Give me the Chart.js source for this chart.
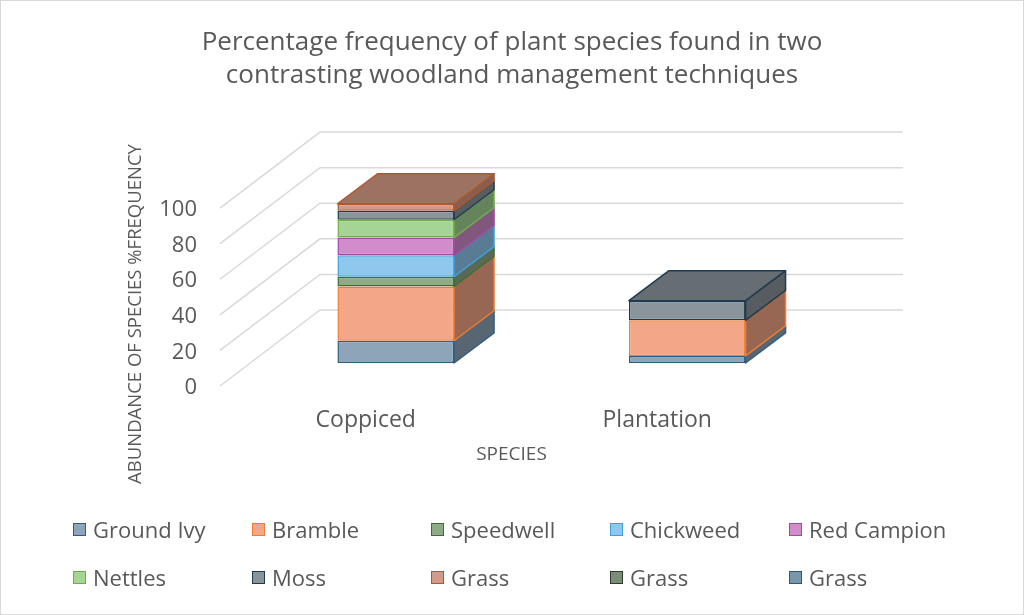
<!DOCTYPE html>
<html>
<head>
<meta charset="utf-8">
<script src="https://cdn.jsdelivr.net/npm/chart.js@4.4.0/dist/chart.umd.min.js"></script>
<style>
    html, body { margin: 0; padding: 0; background: #fff; }
    #wrap { position: relative; width: 1024px; height: 615px; overflow: hidden; }
    #grafico { position: absolute; left: 0; top: 0; }
    #moldura { position: absolute; left: 0; top: 0; width: 1024px; height: 615px; box-sizing: border-box; border: 1px solid #d9d9d9; pointer-events: none; }
    #legenda { position: absolute; left: 73px; top: 513px; display: grid; grid-template-columns: repeat(5, 179px); grid-auto-rows: 48px; font-family: 'Open Sans', sans-serif; font-size: 22px; color: #595959; }
    .item { display: flex; align-items: center; height: 32px; white-space: nowrap; }
    .caixa { width: 11px; height: 11px; margin-right: 7px; border: 1.5px solid; flex: none; }
</style>
</head>
<body>
<div id="wrap">
    <canvas id="grafico" width="1024" height="615"></canvas>
    <div id="legenda"></div>
    <div id="moldura"></div>
</div>
<script>
// dados
const categorias = ['Coppiced', 'Plantation'];
const especies = ['Ground Ivy', 'Bramble', 'Speedwell', 'Chickweed', 'Red Campion', 'Nettles', 'Moss', 'Grass', 'Grass', 'Grass'];
const coppiced = [12.5, 30.5, 5.5, 12, 10, 10, 5, 4, 0, 0];
const plantation = [4, 20, 0, 0, 0, 0, 11, 0, 0, 0];
const ticksY = [0, 20, 40, 60, 80, 100];

// cores (preenchimento / borda)
const coresFundo = ['#8ea5b9', '#f4a688', '#8faa88', '#8fc8ef', '#d08ccb', '#a4d594', '#8a949b', '#d39b86', '#7d8b7a', '#7896ac'];
const coresBorda = ['#2f5f7f', '#ed7d31', '#3b6e32', '#3fa0dc', '#a349a4', '#70ad47', '#1f3b50', '#b0572c', '#2d3f2a', '#285a78'];

const FONTE = "'Open Sans', sans-serif";
const CINZA = '#595959';

// profundidade 3D
const PROF_X = 40, PROF_Y = 30;      // espessura da barra
const FUNDO_X = 70, FUNDO_Y = 53;    // plano da barra -> parede do fundo
const FRENTE_X = 30, FRENTE_Y = 23;  // plano da barra -> borda da frente

const escurecer = (hex, f) => {
    const n = parseInt(hex.slice(1), 16);
    const c = [(n >> 16) & 255, (n >> 8) & 255, n & 255].map(v => Math.round(v * f));
    return `rgb(${c.join(',')})`;
};

const efeito3D = {
    id: 'efeito3D',
    beforeDatasetsDraw(chart) {
        const { ctx, chartArea: a, scales: { y } } = chart;
        ctx.save();
        ctx.strokeStyle = '#d9d9d9';
        ctx.lineWidth = 1.5;
        y.ticks.forEach(t => {
            const py = y.getPixelForValue(t.value);
            ctx.beginPath();
            ctx.moveTo(a.left - FRENTE_X, py + FRENTE_Y);
            ctx.lineTo(a.left + FUNDO_X, py - FUNDO_Y);
            ctx.lineTo(a.right + FUNDO_X, py - FUNDO_Y);
            ctx.stroke();
        });
        ctx.restore();
    },
    afterDatasetsDraw(chart) {
        const { ctx } = chart;
        const sets = chart.data.datasets;
        ctx.save();
        ctx.lineWidth = 1.5;
        ctx.lineJoin = 'round';
        chart.data.labels.forEach((_, i) => {
            let topo = -1;
            sets.forEach((ds, d) => { if (ds.data[i] > 0) topo = d; });
            sets.forEach((ds, d) => {
                if (!(ds.data[i] > 0)) return;
                const bar = chart.getDatasetMeta(d).data[i];
                const { x, y, base, width } = bar.getProps(['x', 'y', 'base', 'width'], true);
                const l = x - width / 2, r = x + width / 2;
                ctx.strokeStyle = ds.borderColor;
                // lateral
                ctx.beginPath();
                ctx.moveTo(r, y);
                ctx.lineTo(r + PROF_X, y - PROF_Y);
                ctx.lineTo(r + PROF_X, base - PROF_Y);
                ctx.lineTo(r, base);
                ctx.closePath();
                ctx.fillStyle = escurecer(ds.backgroundColor, 0.62);
                ctx.fill();
                ctx.stroke();
                // tampa
                if (d === topo) {
                    ctx.beginPath();
                    ctx.moveTo(l, y);
                    ctx.lineTo(l + PROF_X, y - PROF_Y);
                    ctx.lineTo(r + PROF_X, y - PROF_Y);
                    ctx.lineTo(r, y);
                    ctx.closePath();
                    ctx.fillStyle = escurecer(ds.backgroundColor, 0.74);
                    ctx.fill();
                    ctx.stroke();
                }
            });
        });
        ctx.restore();
    },
    afterDraw(chart) {
        const { ctx, chartArea: a } = chart;
        ctx.save();
        ctx.fillStyle = CINZA;
        ctx.textAlign = 'center';
        ctx.textBaseline = 'middle';
        ctx.font = `19px ${FONTE}`;
        ctx.fillText('SPECIES', (a.left + a.right) / 2 - FRENTE_X, 455);
        ctx.font = `18.5px ${FONTE}`;
        ctx.translate(136, 314);
        ctx.rotate(-Math.PI / 2);
        ctx.fillText('ABUNDANCE OF SPECIES %FREQUENCY', 0, 0);
        ctx.restore();
    }
};

const datasets = especies.map((nome, k) => ({
    label: nome,
    data: [coppiced[k], plantation[k]],
    backgroundColor: coresFundo[k],
    borderColor: coresBorda[k],
    borderWidth: 1.5,
    borderSkipped: false,
    barPercentage: 0.4,
    categoryPercentage: 1,
}));

const grafico = new Chart(document.getElementById('grafico'), {
    type: 'bar',
    data: { labels: categorias, datasets },
    plugins: [efeito3D],
    options: {
        responsive: false,
        animation: false,
        layout: { padding: 0 },
        plugins: {
            legend: { display: false },
            tooltip: { enabled: false },
            title: {
                display: true,
                text: ['Percentage frequency of plant species found in two', 'contrasting woodland management techniques'],
                color: CINZA,
                font: { family: FONTE, size: 26, weight: 'normal', lineHeight: 1.27 },
                padding: { top: 26, bottom: 93 },
            },
        },
        scales: {
            x: {
                stacked: true,
                grid: { display: false, drawTicks: false },
                border: { display: false },
                ticks: { color: CINZA, font: { family: FONTE, size: 23 }, labelOffset: -FRENTE_X, padding: 44 },
                afterFit: s => { s.height = 252; },
            },
            y: {
                stacked: true,
                min: 0,
                max: 100,
                grid: { display: false, drawTicks: false },
                border: { display: false },
                afterBuildTicks: s => { s.ticks = ticksY.map(v => ({ value: v })); },
                ticks: { color: CINZA, font: { family: FONTE, size: 22 }, labelOffset: FRENTE_Y + 2, padding: 53 },
                afterFit: s => { s.width = 250; },
            },
            // eixo vazio à direita só para reservar espaço (título fica centrado na página)
            direita: {
                type: 'linear',
                position: 'right',
                display: true,
                grid: { display: false, drawTicks: false },
                border: { display: false },
                ticks: { display: false },
                afterFit: s => { s.width = 191; },
            },
        },
    },
});

// legenda em grade, como no original
document.getElementById('legenda').innerHTML = grafico.data.datasets.map(ds => `
    <div class="item"><span class="caixa" style="background:${ds.backgroundColor};border-color:${ds.borderColor}"></span>${ds.label}</div>
`).join('');
</script>
</body>
</html>
